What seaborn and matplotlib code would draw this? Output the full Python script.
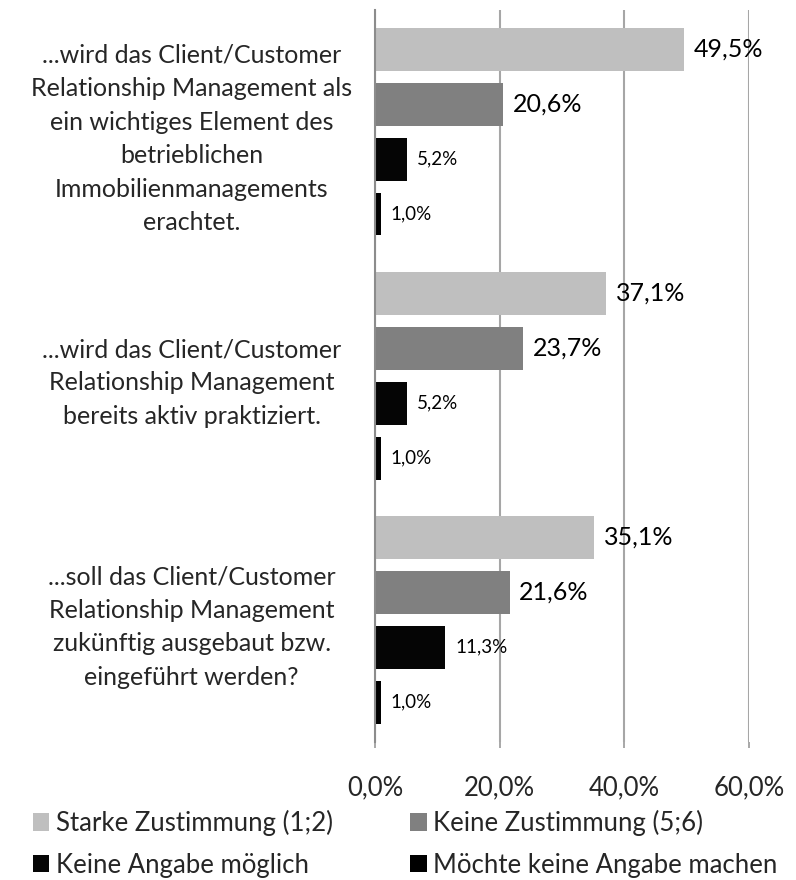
"""
plot.py

Grouped horizontal bar chart: Client/Customer Relationship Management survey.
"""

import matplotlib.pyplot as plt
import pandas as pd
import seaborn as sns
from matplotlib.patches import Patch

# ==========================================================
# Data
# ==========================================================

categories = [
    "...wird das Client/Customer\nRelationship Management als\nein wichtiges Element des\nbetrieblichen\nImmobilienmanagements\nerachtet.",
    "...wird das Client/Customer\nRelationship Management\nbereits aktiv praktiziert.",
    "...soll das Client/Customer\nRelationship Management\nzukünftig ausgebaut bzw.\neingeführt werden?",
]

series = [
    "Starke Zustimmung (1;2)",
    "Keine Zustimmung (5;6)",
    "Keine Angabe möglich",
    "Möchte keine Angabe machen",
]

starke_zustimmung = [49.5, 37.1, 35.1]
keine_zustimmung = [20.6, 23.7, 21.6]
keine_angabe_moeglich = [5.2, 5.2, 11.3]
keine_angabe_machen = [1.0, 1.0, 1.0]

x_ticks = [0, 20, 40, 60]
x_tick_labels = ["0,0%", "20,0%", "40,0%", "60,0%"]

colors = ["#BFBFBF", "#808080", "#050505", "#000000"]

# ==========================================================
# Build table
# ==========================================================

values = [
    starke_zustimmung,
    keine_zustimmung,
    keine_angabe_moeglich,
    keine_angabe_machen,
]

rows = []
for name, vals in zip(series, values):
    for cat, v in zip(categories, vals):
        rows.append({"Kategorie": cat, "Serie": name, "Wert": v})

df = pd.DataFrame(rows)

# ==========================================================
# Plot
# ==========================================================

sns.set_style("white")
plt.rcParams["font.family"] = ["Lato", "DejaVu Sans"]

fig = plt.figure(figsize=(7.96, 8.8), dpi=100)
ax = fig.add_axes([0.471, 0.157, 0.47, 0.832])

sns.barplot(
    data=df,
    y="Kategorie",
    x="Wert",
    hue="Serie",
    order=categories,
    hue_order=series,
    palette=colors,
    orient="h",
    width=0.9,
    gap=0.22,
    linewidth=0,
    ax=ax,
    legend=False,
)

# data labels
for i, container in enumerate(ax.containers):
    labels = [f"{v:.1f}%".replace(".", ",") for v in container.datavalues]
    ax.bar_label(
        container,
        labels=labels,
        padding=7,
        fontsize=18 if i < 2 else 13.5,
        color="black",
    )

ax.set_xlim(0, 60)
ax.set_ylim(2.5, -0.5)

ax.set_xticks(x_ticks)
ax.set_xticklabels(x_tick_labels, fontsize=18.5)
ax.tick_params(axis="x", length=4, width=1.2, color="#999999", pad=20, bottom=True)

ax.set_yticks(range(len(categories)))
ax.set_yticklabels(categories, fontsize=18, linespacing=1.55)
ax.tick_params(axis="y", length=0, pad=132)
for lbl in ax.get_yticklabels():
    lbl.set_horizontalalignment("center")
    lbl.set_multialignment("center")

ax.set_xlabel("")
ax.set_ylabel("")

ax.grid(axis="x", color="#A6A6A6", linewidth=1.5)
ax.set_axisbelow(True)

for side in ["top", "right", "bottom"]:
    ax.spines[side].set_visible(False)
ax.spines["left"].set_color("#8C8C8C")
ax.spines["left"].set_linewidth(1.5)

# legend fills column-wise, so reorder to get row-wise layout
order = [0, 2, 1, 3]
handles = [Patch(facecolor=colors[k], edgecolor="none") for k in order]
fig.legend(
    handles,
    [series[k] for k in order],
    loc="upper left",
    bbox_to_anchor=(0.012, 0.106),
    ncol=2,
    frameon=False,
    fontsize=18.5,
    handlelength=0.65,
    handleheight=0.65,
    handletextpad=0.25,
    columnspacing=3.0,
    labelspacing=0.65,
)

plt.savefig("out.png", dpi=100)
plt.close()
